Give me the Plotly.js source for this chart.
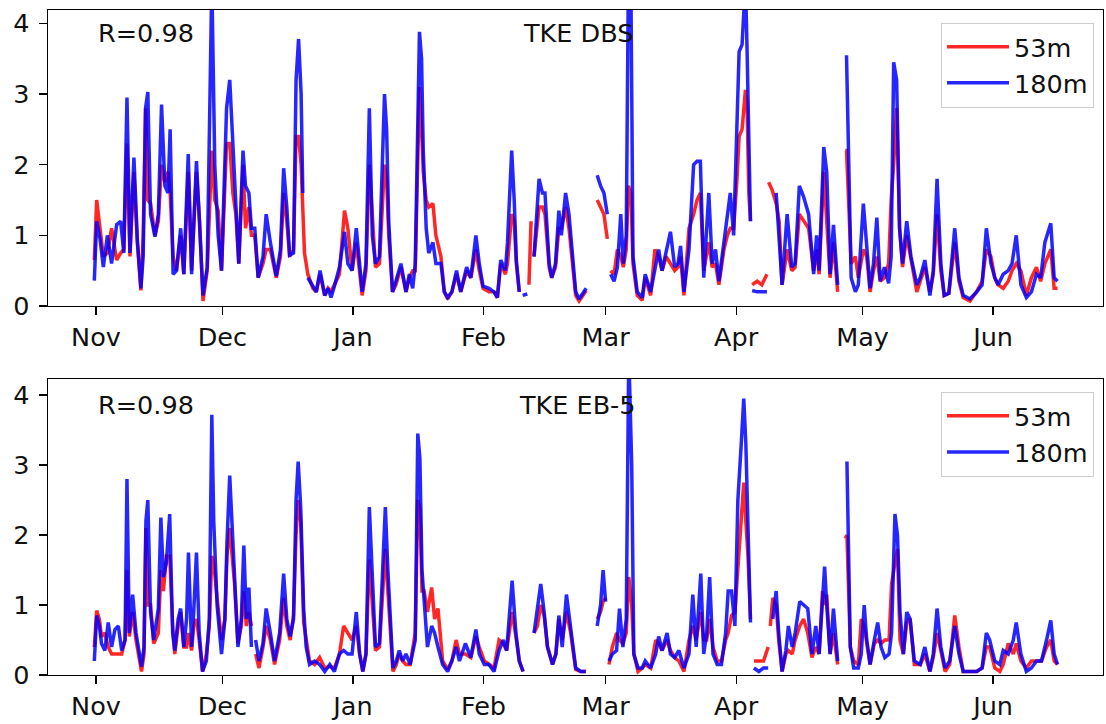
<!DOCTYPE html>
<html>
<head>
<meta charset="utf-8">
<script src="https://cdn.plot.ly/plotly-3.0.1.min.js"></script>
<style>html,body{margin:0;padding:0;background:#fff}#chart{width:1106px;height:724px}</style>
</head>
<body>
<div id="chart"></div>
<script>
// days since 2015-11-01 (null = gap)
var dbsDays = [-0.4,0.16,0.95,1.74,2.7,3.7,4.9,5.85,6.6,7.35,8.06,9.0,9.8,10.66,11.2,11.77,12.3,12.95,14.0,14.8,15.56,16.35,17.1,17.6,18.3,19.1,20.1,20.85,21.9,22.7,23.85,24.6,25.4,26.4,27.5,28.2,29.0,29.8,31.0,31.75,32.5,33.2,33.9,34.9,35.5,36.3,36.9,37.7,38.5,39.65,40.4,41.4,42.8,43.8,44.55,45.3,45.97,46.9,47.5,48.1,48.7,49.1,49.5,50.3,51.5,52.3,53.2,54.3,55.1,55.8,56.6,57.8,59.0,59.8,60.8,61.8,63.2,64.1,64.9,65.6,66.35,67.3,68.5,69.0,69.5,70.4,71.2,72.4,73.6,74.4,75.2,75.8,76.8,77.3,77.7,78.4,79.0,80.0,80.7,81.9,82.7,83.5,84.5,85.6,86.6,88.0,89.0,90.2,91.0,91.9,93.3,94.5,95.3,96.1,97.2,97.7,98.7,99.3,99.8,100.5,100.9,101.3,102.4,102.8,103.3,103.6,104.0,105.2,106.0,106.6,107.6,108.2,109.1,109.9,110.5,111.5,112.3,113.1,113.9,114.7,115.9,116.4,117.5,119.0,119.8,120.6,121.4,121.8,122.2,123.0,123.8,124.6,125.2,125.9,126.4,127.0,127.5,128.5,129.7,130.4,131.7,132.7,133.6,134.4,135.4,136.4,137.4,138.2,138.8,139.6,140.8,141.9,142.7,143.5,144.3,145.5,146.3,147.1,147.9,149.1,149.9,150.6,151.4,152.2,152.7,153.4,154.2,154.6,155.0,155.4,155.6,155.8,157.0,158.1,159.3,159.5,159.7,160.5,161.5,162.2,162.9,164.1,165.2,166.0,167.0,168.0,169.2,170.4,171.1,171.7,172.8,173.5,174.3,175.1,176.1,176.8,177.9,178.2,179.3,180.3,181.0,182.2,183.0,183.8,184.6,185.4,186.2,187.2,188.2,188.8,189.4,190.1,190.8,191.5,192.5,193.5,194.9,195.7,196.8,198.0,198.8,199.7,200.6,201.4,202.5,203.9,204.9,205.9,207.5,209.1,210.4,211.4,212.5,213.4,214.2,215.4,216.6,217.5,218.5,219.6,220.9,222.1,223.3,224.3,225.3,226.7,227.5,228.3];
var dbs180 = [0.36,1.2,0.95,0.55,1.0,0.6,1.15,1.2,0.75,2.95,0.75,2.1,0.95,0.25,0.7,2.8,3.03,1.3,0.98,1.3,2.85,1.7,1.6,2.5,0.45,0.5,1.1,0.45,2.15,0.45,2.05,1.0,0.15,0.55,4.6,2.0,1.0,0.5,2.8,3.2,2.3,1.4,0.6,2.2,1.7,1.6,1.1,1.1,0.4,0.7,1.3,0.9,0.42,0.8,1.95,1.4,0.72,0.75,3.2,3.78,3.0,1.6,null,0.4,0.28,0.2,0.5,0.15,0.25,0.12,0.28,0.55,1.05,0.6,0.5,1.1,0.2,0.6,2.8,1.0,0.6,0.7,3.0,2.5,1.2,0.2,0.35,0.6,0.2,0.45,0.25,0.6,3.88,3.5,2.2,1.1,0.75,0.9,0.6,0.6,0.2,0.12,0.2,0.5,0.2,0.55,0.4,1.0,0.6,0.28,0.25,0.2,0.12,0.65,0.5,0.9,2.2,1.5,0.65,0.2,null,0.15,0.17,null,null,null,0.7,1.8,1.6,1.6,0.6,0.4,0.6,1.35,1.0,1.6,1.3,0.7,0.2,0.1,0.2,0.25,null,1.85,1.7,1.6,1.3,null,0.45,0.35,0.55,1.3,0.6,1.0,4.6,4.6,0.7,0.2,0.12,0.45,0.2,0.5,0.8,0.5,0.8,1.05,0.55,0.6,0.85,0.2,0.8,2.0,2.05,2.05,0.4,1.6,0.6,0.8,0.35,0.9,1.2,1.6,1.0,2.5,3.6,3.7,4.6,3.6,2.2,1.2,null,0.22,0.2,0.2,0.2,null,null,null,1.6,1.0,0.3,1.3,0.55,0.6,1.7,1.55,1.3,0.45,1.0,0.5,2.25,1.9,0.45,1.15,0.3,null,null,3.55,0.4,0.2,0.3,1.45,0.9,0.25,0.6,1.25,0.35,0.55,0.32,0.7,3.45,3.2,1.1,0.6,1.2,0.7,0.3,0.4,0.65,0.15,0.5,1.8,0.6,0.15,0.18,1.1,0.4,0.15,0.1,0.2,0.3,1.1,0.6,0.4,0.3,0.45,0.5,0.6,1.0,0.3,0.12,0.2,0.45,0.4,0.9,1.17,0.4,0.35];
var dbs53 = [0.65,1.5,1.1,0.7,0.75,1.1,0.65,0.75,0.8,2.3,0.7,1.9,0.9,0.22,1.0,2.8,1.5,1.45,1.0,1.2,2.0,1.75,1.9,1.6,0.7,0.5,1.0,0.45,1.9,0.5,1.9,1.2,0.07,0.5,2.2,1.5,1.35,0.5,2.3,2.3,1.6,1.3,0.6,2.0,1.1,1.4,1.0,1.0,0.4,0.6,0.8,0.8,0.4,0.7,1.6,1.2,0.7,0.8,2.4,2.4,2.0,1.2,0.75,0.45,0.25,0.2,0.45,0.15,0.25,0.2,0.3,0.45,1.35,1.1,0.5,0.9,0.15,0.5,2.0,1.2,0.55,0.6,2.0,1.8,1.0,0.2,0.3,0.55,0.2,0.4,0.5,0.5,3.1,2.5,1.9,1.5,1.4,1.45,1.0,0.7,0.2,0.1,0.2,0.45,0.2,0.5,0.4,0.8,0.5,0.25,0.2,0.2,0.12,0.6,0.45,0.6,1.3,1.2,0.6,0.2,null,0.15,null,0.3,1.2,null,0.7,1.4,1.4,1.3,0.55,0.4,0.55,1.1,1.1,1.4,1.1,0.6,0.15,0.07,0.18,0.22,null,1.5,1.4,1.3,0.95,null,0.5,0.45,0.8,0.7,0.55,0.8,1.7,1.6,0.6,0.15,0.08,0.4,0.15,0.8,0.7,0.5,0.7,0.6,0.5,0.55,0.7,0.15,1.1,1.3,1.5,1.6,0.5,0.9,0.55,0.6,0.3,0.8,1.0,1.1,1.1,1.8,2.4,2.5,3.06,2.8,1.6,1.2,null,0.3,0.35,0.3,0.45,null,1.75,1.65,1.45,1.2,0.3,0.8,0.5,0.55,1.3,1.2,1.1,0.5,0.8,0.45,1.9,1.2,0.4,0.9,0.2,null,2.2,2.2,0.6,0.7,0.4,0.8,0.7,0.2,0.5,0.7,0.35,0.4,0.6,1.5,2.0,2.8,1.1,0.55,1.0,0.65,0.2,0.35,0.55,0.2,0.45,1.3,0.5,0.15,0.18,0.9,0.35,0.12,0.07,0.2,0.35,0.8,0.7,0.4,0.3,0.25,0.35,0.5,0.6,0.5,0.15,0.4,0.55,0.35,0.6,0.8,0.25,0.25];

var ebDays = [-0.4,0.16,0.8,1.3,2.1,2.9,3.7,4.5,5.3,6.1,6.9,7.35,7.9,8.7,9.5,10.3,10.8,11.4,11.85,12.3,12.95,13.7,14.8,15.4,16.0,16.7,17.5,18.2,18.7,19.5,20.1,20.85,21.5,21.95,22.7,23.2,23.85,24.5,25.3,26.2,26.9,27.5,27.95,28.75,29.8,30.6,31.1,31.75,32.4,32.9,33.7,34.5,35.1,35.7,36.3,36.9,37.3,37.9,38.7,39.65,40.4,41.4,42.4,43.6,44.55,45.3,46.1,46.9,47.5,48.0,48.6,49.3,49.9,50.7,51.9,53.1,54.3,55.5,56.6,57.8,58.8,59.8,60.8,61.8,62.6,63.35,64.1,64.9,65.6,66.35,67.3,68.7,69.3,69.8,70.5,71.3,72.0,72.8,73.6,74.6,75.2,75.8,76.4,76.9,77.4,77.9,78.7,79.7,80.4,81.2,82.3,83.5,84.5,85.5,86.3,87.7,89.0,90.2,91.0,92.2,93.3,94.5,95.7,96.7,97.5,98.8,99.7,100.5,101.4,102.0,102.8,103.4,104.0,104.8,105.6,106.4,107.2,108.4,109.2,109.9,110.7,111.7,112.7,113.9,115.1,116.3,117.5,119.0,119.8,120.4,121.0,121.4,121.8,122.6,123.6,124.3,125.1,125.9,126.5,127.2,127.7,128.7,129.7,130.4,131.7,132.9,133.6,134.4,135.6,136.4,137.4,138.4,139.6,140.8,141.7,142.5,143.6,144.3,145.0,145.7,146.5,147.5,148.5,149.5,150.1,150.9,151.7,152.4,153.2,153.8,154.3,154.8,155.4,155.7,156.2,157.4,158.5,159.6,159.9,160.1,160.7,161.5,162.1,162.9,163.8,164.4,165.3,166.0,167.1,168.0,169.0,170.0,170.9,171.7,172.5,173.0,173.5,174.3,175.1,176.1,177.1,177.9,178.3,179.1,179.9,181.0,181.7,182.4,183.0,183.8,184.8,185.6,186.4,187.3,188.3,188.9,189.7,190.3,190.9,191.7,192.5,193.3,194.3,195.7,196.8,198.0,198.8,199.7,200.6,201.6,202.7,203.9,204.9,205.9,207.5,209.1,210.4,211.4,212.2,213.4,214.6,215.4,216.6,217.8,218.5,219.6,220.9,222.1,223.3,224.5,225.7,226.7,227.5,228.3];
var eb180 = [0.2,0.85,0.7,0.45,0.35,0.75,0.4,0.65,0.7,0.35,0.5,2.8,0.6,1.15,0.6,0.3,0.12,0.4,2.2,2.5,0.9,0.5,0.95,2.25,1.4,1.6,2.3,0.6,0.35,0.8,0.95,0.4,0.8,1.75,0.4,0.9,1.75,0.6,0.05,0.2,0.8,3.72,2.2,1.0,0.3,0.8,1.9,2.85,2.1,1.3,0.4,0.8,1.85,0.8,1.25,0.4,null,0.5,0.2,0.45,0.95,0.6,0.2,0.6,1.45,0.8,0.55,0.8,2.5,3.05,2.4,0.95,0.4,0.15,0.2,0.15,0.05,0.15,0.05,0.3,0.35,0.3,0.3,0.9,0.3,0.05,0.3,2.4,1.3,0.4,0.45,2.4,1.5,0.8,0.1,0.2,0.35,0.2,0.3,0.15,0.3,0.5,3.45,3.1,1.5,1.0,0.4,0.7,0.6,0.4,0.15,0.05,0.2,0.4,0.2,0.45,0.25,0.65,0.3,0.15,0.15,0.05,0.35,0.5,0.35,1.35,0.6,0.2,0.05,null,null,null,0.6,1.0,1.3,0.9,0.4,0.15,0.3,0.85,0.4,1.15,0.7,0.1,0.05,0.05,null,0.7,1.0,1.5,1.05,null,0.2,0.3,0.35,0.95,0.4,0.8,4.6,3.0,0.3,0.1,0.1,0.2,0.1,0.3,0.55,0.35,0.6,0.3,0.25,0.35,0.1,0.3,1.15,0.4,1.45,0.3,0.6,1.4,0.3,0.15,0.15,0.6,1.2,1.2,0.7,2.5,3.3,3.95,3.3,2.3,0.75,null,0.1,0.05,0.1,0.1,null,null,0.8,1.2,0.6,0.05,0.35,0.7,0.4,0.6,1.05,1.0,0.95,0.3,0.7,0.3,1.2,1.55,1.0,0.3,0.95,0.2,null,null,3.05,0.4,0.1,0.1,0.3,1.0,0.5,0.15,0.5,0.75,0.4,0.25,0.3,0.6,2.3,2.0,0.9,0.3,0.9,0.8,0.2,0.15,0.4,0.05,0.3,0.95,0.4,0.1,0.2,0.7,0.3,0.05,0.05,0.05,0.1,0.6,0.5,0.2,0.15,0.35,0.3,0.5,0.75,0.3,0.05,0.1,0.2,0.2,0.5,0.78,0.3,0.15];
var eb53 = [0.4,0.92,0.8,0.55,0.6,0.4,0.3,0.3,0.3,0.3,0.5,1.5,0.55,0.9,0.5,0.2,0.05,0.3,2.1,1.0,1.0,0.45,0.6,1.5,1.2,1.7,1.7,0.7,0.3,0.7,0.9,0.4,0.4,0.6,0.35,0.7,0.8,0.5,0.05,0.3,0.7,1.7,1.6,1.1,0.5,0.8,1.7,2.1,1.6,1.3,0.45,0.7,1.2,0.7,0.9,0.7,null,0.3,0.1,0.4,0.7,0.5,0.15,0.5,1.1,0.7,0.5,0.85,2.0,2.5,2.2,0.75,0.5,0.2,0.15,0.25,0.1,0.12,0.1,0.3,0.7,0.6,0.5,0.7,0.3,0.05,0.3,1.65,1.1,0.35,0.4,1.8,1.2,0.7,0.05,0.15,0.3,0.2,0.15,0.15,0.35,0.6,2.5,2.4,1.2,1.2,0.9,1.25,0.8,0.95,0.2,0.08,0.2,0.5,0.3,0.3,0.25,0.55,0.4,0.2,0.15,0.1,0.5,0.45,0.35,0.9,0.55,0.2,0.05,null,0.9,null,0.6,0.7,1.0,0.85,0.4,0.15,0.3,0.8,0.5,0.9,0.6,0.08,0.05,0.05,null,0.8,0.9,1.05,1.1,null,0.15,0.4,0.6,0.5,0.45,0.6,1.4,1.0,0.3,0.05,0.1,0.15,0.1,0.5,0.45,0.35,0.5,0.35,0.25,0.2,0.05,0.5,0.7,0.5,0.9,0.5,0.5,0.8,0.4,0.2,0.2,0.5,0.6,0.85,0.9,1.5,2.2,2.75,2.2,1.7,0.8,null,0.2,0.2,0.2,0.4,null,0.7,1.1,1.0,0.5,0.05,0.3,0.35,0.3,0.5,0.7,0.8,0.6,0.25,0.4,0.3,1.2,1.0,1.15,0.3,0.6,0.15,null,1.95,2.0,0.4,0.2,0.15,0.8,0.7,0.45,0.15,0.45,0.5,0.45,0.5,0.5,1.3,1.6,1.8,0.5,0.3,0.75,0.8,0.15,0.15,0.3,0.05,0.25,0.6,0.35,0.05,0.15,0.85,0.4,0.05,0.05,0.05,0.1,0.4,0.4,0.1,0.05,0.15,0.45,0.3,0.45,0.2,0.1,0.2,0.2,0.2,0.4,0.5,0.2,0.15];

var seriesNames = ['53m', '180m'];
var seriesColors = ['rgba(255,0,0,0.85)', 'rgba(0,0,255,0.85)'];
var panelTitles = ['TKE DBS', 'TKE EB-5'];
var corrLabels = ['R=0.98', 'R=0.98'];

var T0 = Date.UTC(2015, 10, 1);
function toDates(days) { return days.map(function (d) { return T0 + d * 86400000; }); }

function tr(days, vals, i, xa, ya, leg) {
  return {
    x: toDates(days), y: vals, type: 'scatter', mode: 'lines',
    name: seriesNames[i], xaxis: xa, yaxis: ya, legend: leg,
    line: {color: seriesColors[i], width: 3.5}, connectgaps: false
  };
}

var data = [
  tr(dbsDays, dbs53, 0, 'x', 'y', 'legend'),
  tr(dbsDays, dbs180, 1, 'x', 'y', 'legend'),
  tr(ebDays, eb53, 0, 'x2', 'y2', 'legend2'),
  tr(ebDays, eb180, 1, 'x2', 'y2', 'legend2')
];

var FS = 25.5;
var xRange = [T0 - 11.4 * 86400000, T0 + 239.1 * 86400000];
function xax(anchor) {
  return {
    type: 'date', range: xRange, anchor: anchor, domain: [0, 1],
    tick0: '2015-11-01', dtick: 'M1', tickformat: '%b',
    ticks: 'outside', ticklen: 8, tickwidth: 1.3, tickcolor: '#000',
    showline: true, mirror: true, linecolor: '#000', linewidth: 1.3,
    showgrid: false, zeroline: false, ticklabelstandoff: 0,
    tickfont: {size: FS, color: '#111'}
  };
}
function yax(anchor, dom, top) {
  return {
    range: [0, top], anchor: anchor, domain: dom, dtick: 1, tick0: 0,
    ticks: 'outside', ticklen: 8, tickwidth: 1.3, tickcolor: '#000',
    showline: true, mirror: true, linecolor: '#000', linewidth: 1.3,
    showgrid: false, zeroline: false, ticklabelstandoff: 4,
    tickfont: {size: FS, color: '#111'}
  };
}
function legend(ytop) {
  return {
    x: 0.9915, xanchor: 'right', y: ytop, yanchor: 'top',
    bgcolor: 'rgba(255,255,255,0.85)', bordercolor: '#cccccc', borderwidth: 1,
    font: {size: FS, color: '#111'}, itemwidth: 62, tracegroupgap: 0
  };
}
function ann(text, xr, yr, x, y, anchor) {
  return {text: text, xref: xr, yref: yr, x: x, y: y, xanchor: anchor, yanchor: 'middle',
    showarrow: false, font: {size: FS, color: '#111'}};
}

var layout = {
  width: 1106, height: 724,
  margin: {l: 48, r: 3, t: 10, b: 49},
  paper_bgcolor: '#fff', plot_bgcolor: '#fff',
  font: {family: 'DejaVu Sans', size: FS, color: '#111'},
  xaxis: xax('y'), yaxis: yax('x', [0.5549, 1], 4.19),
  xaxis2: xax('y2'), yaxis2: yax('x2', [0, 0.4451], 4.23),
  legend: legend(0.981), legend2: legend(0.426),
  annotations: [
    ann(corrLabels[0], 'x domain', 'y domain', 0.0455, 0.922, 'left'),
    ann(panelTitles[0], 'x domain', 'y domain', 0.502, 0.922, 'center'),
    ann(corrLabels[1], 'x2 domain', 'y2 domain', 0.0455, 0.912, 'left'),
    ann(panelTitles[1], 'x2 domain', 'y2 domain', 0.502, 0.912, 'center')
  ]
};

Plotly.newPlot('chart', data, layout, {displayModeBar: false, staticPlot: true});
</script>
</body>
</html>
